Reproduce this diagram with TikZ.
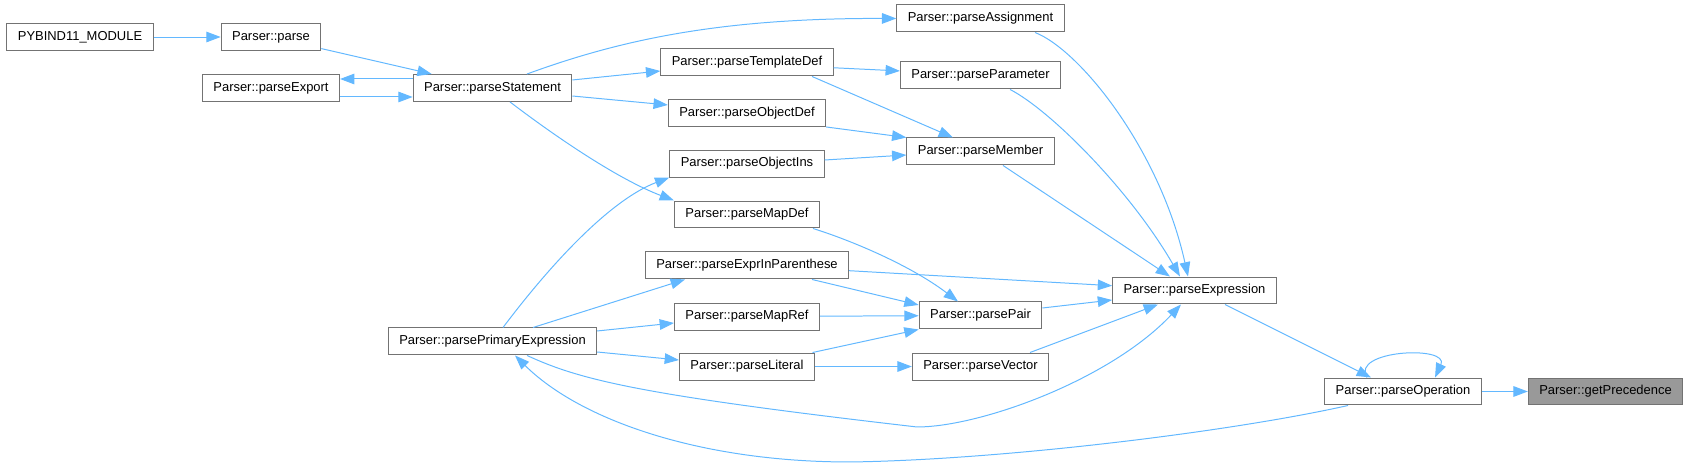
\documentclass[tikz,border=0pt]{standalone}
\usepackage{fontspec}
\setmainfont{Liberation Sans}
\usetikzlibrary{arrows.meta}
\definecolor{edgeblue}{HTML}{63B8FF}
\tikzset{
  fnbox/.style={draw=black!55, line width=0.75pt, fill=white, minimum height=0.714cm, inner xsep=0.29cm, inner ysep=0pt, font=\fontsize{9.75}{11}\selectfont},
  fnroot/.style={fnbox, fill=black!40},
  call/.style={draw=edgeblue, line width=0.75pt, -{Triangle[length=0.38cm,width=0.28cm]}, fill=none},
}

\begin{document}
\begin{tikzpicture}
\useasboundingbox (0,0) rectangle (44.661,12.382);
\node[fnbox] (pybind) at (2.117,11.403) {PYBIND11\_MODULE};
\node[fnbox] (parse) at (7.170,11.403) {Parser::parse};
\node[fnbox] (export) at (7.170,10.054) {Parser::parseExport};
\node[fnbox] (statement) at (13.031,10.054) {Parser::parseStatement};
\node[fnbox] (assignment) at (25.942,11.893) {Parser::parseAssignment};
\node[fnbox] (templatedef) at (19.764,10.729) {Parser::parseTemplateDef};
\node[fnbox] (parameter) at (25.942,10.385) {Parser::parseParameter};
\node[fnbox] (objectdef) at (19.764,9.393) {Parser::parseObjectDef};
\node[fnbox] (member) at (25.942,8.374) {Parser::parseMember};
\node[fnbox] (objectins) at (19.764,8.056) {Parser::parseObjectIns};
\node[fnbox] (mapdef) at (19.764,6.707) {Parser::parseMapDef};
\node[fnbox] (exprparen) at (19.764,5.358) {Parser::parseExprInParenthese};
\node[fnbox] (mapref) at (19.764,4.008) {Parser::parseMapRef};
\node[fnbox] (literal) at (19.764,2.685) {Parser::parseLiteral};
\node[fnbox] (primary) at (13.031,3.347) {Parser::parsePrimaryExpression};
\node[fnbox] (pair) at (25.942,4.035) {Parser::parsePair};
\node[fnbox] (vector) at (25.942,2.685) {Parser::parseVector};
\node[fnbox] (expression) at (31.604,4.696) {Parser::parseExpression};
\node[fnbox] (operation) at (37.121,2.024) {Parser::parseOperation};
\node[fnroot] (precedence) at (42.478,2.024) {Parser::getPrecedence};
\draw[call] (pybind) -- (parse);
\draw[call] (parse) -- (statement);
\draw[call] ([yshift=0.238cm]statement.west) -- ([yshift=0.238cm]export.east);
\draw[call] ([yshift=-0.238cm]export.east) -- ([yshift=-0.238cm]statement.west);
\draw[call] ([xshift=0.913cm]statement.north) .. controls (16.404,11.324) and (19.050,11.906) .. (assignment.west);
\draw[call] ([yshift=0.212cm]statement.east) -- ([yshift=-0.225cm]templatedef.west);
\draw[call] ([yshift=-0.212cm]statement.east) -- ([yshift=0.212cm]objectdef.west);
\draw[call] ([xshift=0.463cm]statement.south) .. controls (14.816,8.678) and (16.404,7.620) .. (mapdef.north west);
\draw[call] ([yshift=-0.14cm]templatedef.east) -- ([yshift=0.12cm]parameter.west);
\draw[call] ([xshift=1.72cm]templatedef.south) -- ([xshift=-0.728cm]member.north);
\draw[call] (objectdef.south east) -- (member.north west);
\draw[call] ([yshift=0.093cm]objectins.east) -- ([yshift=-0.093cm]member.west);
\draw[call] ([xshift=0.278cm]primary.north) .. controls (14.552,5.371) and (16.139,7.091) .. (objectins.south west);
\draw[call] ([xshift=1.442cm]assignment.south) .. controls (28.575,11.059) and (30.691,8.414) .. ([xshift=-0.172cm]expression.north);
\draw[call] ([xshift=0.781cm]parameter.south) .. controls (27.781,9.472) and (29.898,7.355) .. ([xshift=-0.384cm]expression.north);
\draw[call] ([xshift=0.595cm]member.south) -- ([xshift=-0.648cm]expression.north);
\draw[call] ([xshift=1.746cm]mapdef.south) .. controls (22.489,6.032) and (24.077,5.371) .. ([xshift=-0.595cm]pair.north);
\draw[call] ([yshift=-0.138cm]exprparen.east) -- ([yshift=0.127cm]expression.west);
\draw[call] ([xshift=1.72cm]exprparen.south) -- ([yshift=0.278cm]pair.west);
\draw[call] ([xshift=1.072cm]primary.north) -- ([xshift=-1.640cm]exprparen.south);
\draw[call] (mapref) -- (pair);
\draw[call] ([yshift=0.278cm]primary.east) -- ([yshift=-0.172cm]mapref.west);
\draw[call] ([xshift=1.733cm]literal.north) -- (pair.south west);
\draw[call] (literal) -- (vector);
\draw[call] ([yshift=-0.278cm]primary.east) -- ([yshift=0.172cm]literal.west);
\draw[call] ([yshift=0.198cm]pair.east) -- ([yshift=-0.251cm]expression.west);
\draw[call] ([xshift=1.310cm]vector.north) -- ([xshift=-0.966cm]expression.south);
\draw[call] ([xshift=0.913cm]primary.south) .. controls (15.346,2.328) and (16.933,1.931) .. (24.262,1.085) .. controls (25.929,1.085) and (29.368,2.328) .. ([xshift=-0.357cm]expression.south);
\draw[call] ([xshift=0.807cm]expression.south) -- ([xshift=-0.847cm]operation.north);
\draw[call] ([xshift=-0.953cm]operation.north) .. controls (35.718,3.122) and (38.364,3.254) .. ([xshift=0.847cm]operation.north);
\draw[call] (operation) -- (precedence);
\draw[call] ([xshift=-1.455cm]operation.south) .. controls (32.543,0.952) and (26.458,0.212) .. (22.489,0.159) .. controls (18.521,0.159) and (15.346,1.270) .. ([xshift=0.595cm]primary.south);
\end{tikzpicture}
\end{document}
